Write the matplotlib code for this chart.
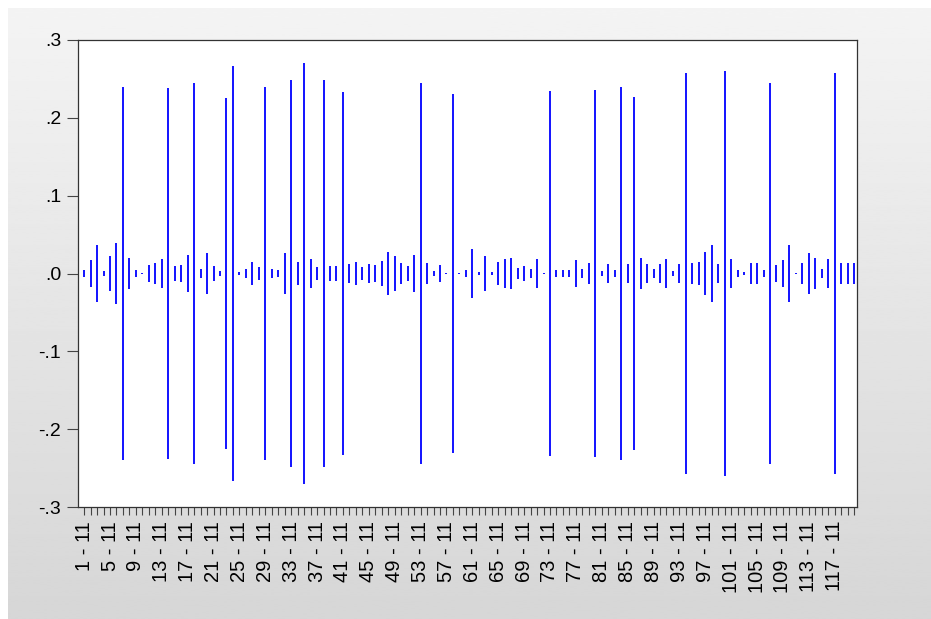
#!/usr/bin/env python3
"""Spike chart: symmetric +/- bands per category, EViews look."""
import numpy as np
import matplotlib.pyplot as plt

# category index k for label "k - 11"
lags = list(range(1, 121))

# half-height of each bar (bar goes from -v to +v)
half_height = [
    0.005, 0.017, 0.037, 0.003, 0.022, 0.039, 0.239, 0.020, 0.005, 0.001,
    0.011, 0.013, 0.019, 0.238, 0.010, 0.011, 0.024, 0.245, 0.006, 0.026,
    0.009, 0.003, 0.225, 0.266, 0.002, 0.006, 0.015, 0.008, 0.239, 0.006,
    0.004, 0.026, 0.249, 0.015, 0.270, 0.019, 0.008, 0.248, 0.010, 0.010,
    0.233, 0.012, 0.015, 0.008, 0.012, 0.011, 0.016, 0.027, 0.022, 0.014,
    0.010, 0.024, 0.245, 0.013, 0.003, 0.011, 0.001, 0.231, 0.001, 0.005,
    0.032, 0.002, 0.023, 0.002, 0.015, 0.019, 0.020, 0.007, 0.010, 0.006,
    0.019, 0.001, 0.235, 0.004, 0.004, 0.004, 0.017, 0.006, 0.013, 0.236,
    0.003, 0.012, 0.005, 0.240, 0.012, 0.227, 0.020, 0.012, 0.006, 0.012,
    0.018, 0.003, 0.012, 0.257, 0.014, 0.015, 0.028, 0.036, 0.012, 0.260,
    0.019, 0.004, 0.002, 0.014, 0.014, 0.005, 0.245, 0.011, 0.017, 0.036,
    0.001, 0.014, 0.026, 0.020, 0.006, 0.018, 0.258, 0.014, 0.014, 0.014,
]

y_ticks = [-0.3, -0.2, -0.1, 0.0, 0.1, 0.2, 0.3]
y_tick_labels = ["-.3", "-.2", "-.1", ".0", ".1", ".2", ".3"]

plt.rcParams["font.family"] = ["Liberation Sans", "DejaVu Sans"]

fig = plt.figure(figsize=(9.31, 6.19), dpi=100)
fig.patch.set_facecolor("white")

# grey gradient panel behind everything
bg = fig.add_axes([8 / 931, 0, 1 - 8 / 931, 1 - 8 / 619], zorder=-5)
grad = np.linspace(0.955, 0.84, 256).reshape(-1, 1)
bg.imshow(grad, cmap="gray", vmin=0, vmax=1, aspect="auto", extent=[0, 1, 0, 1])
bg.set_axis_off()

ax = fig.add_axes([78 / 931, 1 - 507 / 619, (857 - 78) / 931, (507 - 40) / 619])
ax.set_facecolor("white")

v = np.array(half_height)
ax.vlines(lags, -v, v, colors="#0000ff", linewidth=1.3)

ax.set_xlim(0.05, 120.45)
ax.set_ylim(-0.3, 0.3)

ax.set_yticks(y_ticks)
ax.set_yticklabels(y_tick_labels, fontsize=14)
ax.tick_params(axis="y", direction="out", length=8, width=0.8, color="#444444", pad=4)

major = lags[::4]
ax.set_xticks(major)
ax.set_xticklabels([f"{k} - 11" for k in major], rotation=90, fontsize=14.5)
ax.set_xticks(lags, minor=True)
ax.tick_params(axis="x", which="both", direction="out", length=6, width=0.8,
               color="#444444", pad=4)

for s in ax.spines.values():
    s.set_color("#333333")
    s.set_linewidth(0.9)

fig.savefig("out.png", dpi=100)
